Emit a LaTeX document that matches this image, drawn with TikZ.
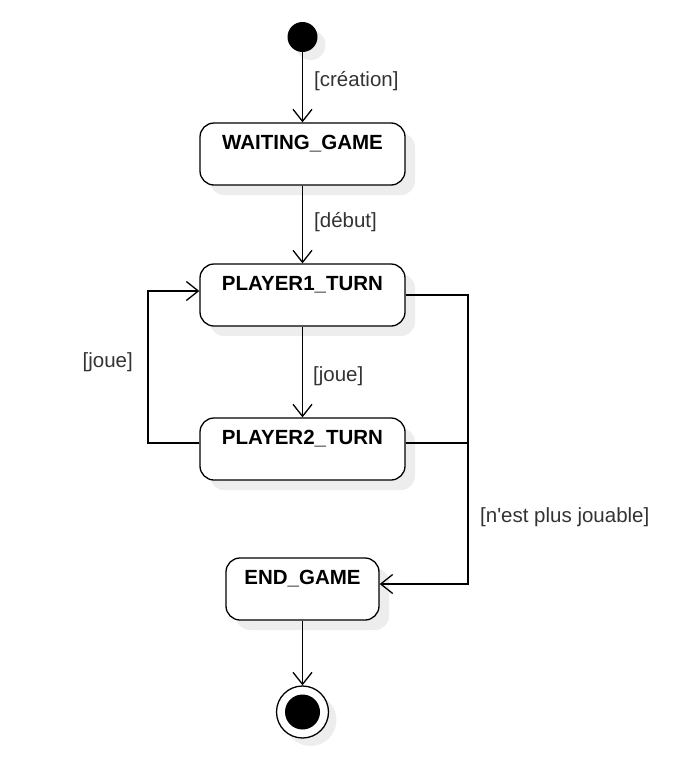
\documentclass[tikz,border=0pt]{standalone}
\usepackage{fontspec}
\setmainfont{Liberation Sans}
\usetikzlibrary{arrows.meta,shadows}

\begin{document}
\begin{tikzpicture}[x=1pt, y=-1pt, every node/.style={font=\fontsize{20.5}{24}\selectfont}]
  \tikzset{
    state/.style={draw, line width=1.3pt, rounded corners=14pt, fill=white, minimum width=205pt,
      inner sep=0pt, text height=26.5pt, text depth=35.5pt, font=\fontsize{20.5}{24}\selectfont\bfseries,
      drop shadow={shadow xshift=10pt, shadow yshift=-10pt, fill=black!7, opacity=1}},
    initial/.style={circle, fill=black, minimum size=30pt, inner sep=0pt,
      drop shadow={shadow xshift=8pt, shadow yshift=-8pt, fill=black!7, opacity=1}},
    final/.style={circle, draw, line width=1.3pt, fill=white, minimum size=52pt, inner sep=0pt,
      drop shadow={shadow xshift=8pt, shadow yshift=-8pt, fill=black!7, opacity=1}},
    guard/.style={inner sep=0pt, text=black!80},
    trans/.style={line width=1.3pt, -{Straight Barb[length=12pt, width=19pt, line width=1.3pt]}},
    link/.style={line width=1.3pt}
  }
  \useasboundingbox (0,0) rectangle (677,763);

  % states
  \node[initial] (start) at (302.5,37) {};
  \node[state] (wait) at (302.5,154) {WAITING\_GAME};
  \node[state] (p1) at (302.5,295) {PLAYER1\_TURN};
  \node[state] (p2) at (302.5,449) {PLAYER2\_TURN};
  \node[state, minimum width=153pt] (endg) at (302.5,589) {END\_GAME};
  \node[final] (stop) at (302.5,712) {};
  \node[circle, fill=black, minimum size=35pt, inner sep=0pt] (stopdot) at (stop) {};

  % transitions
  \draw[trans] (start) -- (wait);
  \draw[trans] (wait) -- (p1);
  \draw[trans] (p1) -- (p2);
  \draw[trans] (endg) -- (stop);

  % loop back to player 1
  \coordinate (loopL) at (148,0);
  \draw[trans] ([yshift=6pt]p2.west) -- ([yshift=6pt]p2.west -| loopL) |- ([yshift=4pt]p1.west);

  % game over
  \coordinate (merge) at (468,295);
  \draw[trans] (p1.east) -- (merge) |- ([yshift=5pt]endg.east);
  \draw[link] ([yshift=6pt]p2.east) -- ([yshift=6pt]p2.east -| merge);

  % guards
  \node[guard, anchor=west] (gcrea) at (314,81) {[création]};
  \node[guard, anchor=west] (gdeb) at (314,222) {[début]};
  \node[guard, anchor=west] (gjoue) at (313,376) {[joue]};
  \node[guard, anchor=east] (gloop) at (133,362) {[joue]};
  \node[guard, anchor=west] (gend) at (480,517) {[n\textquotesingle est plus jouable]};
\end{tikzpicture}
\end{document}
